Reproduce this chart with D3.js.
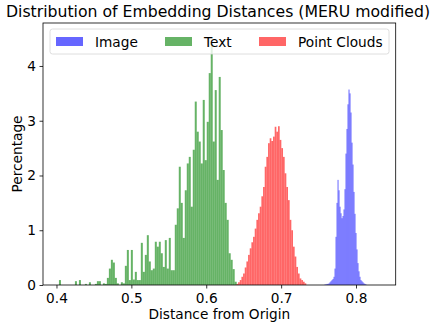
<!DOCTYPE html>
<html>
<head>
<meta charset="utf-8">
<script src="https://cdn.jsdelivr.net/npm/d3@7"></script>
<style>
    body { margin: 0; background: #fff; }
    svg { display: block; font-family: "DejaVu Sans", sans-serif; }
</style>
</head>
<body>
<svg id="chart"></svg>
<script>
// histogram heights (percentage per bin), each series has its own bins
const imageStart = 0.758, imageBinWidth = 0.001333;
const imageValues = [0.01, 0.01, 0.02, 0.02, 0.03, 0.05, 0.07, 0.09, 0.11, 0.15,
    0.3, 0.88, 1.5, 1.92, 1.73, 1.43, 1.31, 1.22, 1.26, 1.38,
    1.75, 2.4, 2.85, 3.3, 3.57, 3.5, 3.15, 2.6, 2.2, 1.7,
    1.3, 0.95, 0.65, 0.4, 0.25, 0.15, 0.09, 0.07, 0.05, 0.03,
    0.02, 0.01];

const textStart = 0.4033, textBinWidth = 0.002667;
const textValues = [0.09, 0, 0, 0, 0, 0, 0, 0, 0.07, 0,
    0.09, 0, 0, 0.02, 0, 0.05, 0, 0, 0.02, 0.07,
    0.07, 0, 0.03, 0.02, 0.13, 0.3, 0.46, 0.41, 0.13, 0.03,
    0, 0.05, 0.03, 0.35, 0.64, 0.09, 0.64, 0.1, 0.24, 0.09,
    0.09, 0.77, 0.24, 0.55, 0.91, 0.43, 0.27, 0.3, 0.79, 0.7,
    0.79, 0.58, 0.33, 0.82, 0.3, 0.86, 0.27, 0.27, 1.1, 1.4,
    2.16, 1.5, 0.86, 1.73, 2.22, 2.34, 1.43, 2.47, 3.35, 2.8,
    2.62, 2.22, 3.38, 2.28, 2.98, 3.87, 4.4, 2.62, 3.56, 1.92,
    3.8, 2.83, 2.1, 1.5, 1.19, 0.58, 0.46, 0.29, 0.06];

const cloudStart = 0.6403, cloudBinWidth = 0.002222;
const cloudValues = [0.02, 0.05, 0.09, 0.15, 0.21, 0.32, 0.43, 0.55, 0.67, 0.78,
    0.88, 1.03, 1.19, 1.31, 1.43, 1.62, 1.79, 2.16, 2.34, 2.59,
    2.68, 2.63, 2.71, 2.89, 2.8, 2.9, 2.65, 2.5, 2.34, 2.04,
    1.79, 1.55, 1.19, 1.0, 0.7, 0.52, 0.33, 0.21, 0.12, 0.09,
    0.06, 0.03];

const seriesNames = ["Image", "Text", "Point Clouds"];
const seriesColors = ["blue", "green", "red"];
const xTicks = [0.4, 0.5, 0.6, 0.7, 0.8];
const yTicks = [0, 1, 2, 3, 4];

let series = [
    {start: imageStart, w: imageBinWidth, values: imageValues},
    {start: textStart, w: textBinWidth, values: textValues},
    {start: cloudStart, w: cloudBinWidth, values: cloudValues}
];

let fontSize = 13.7;

let svg = d3.select("#chart").attr("width", 432).attr("height", 327);

let margin = {top: 23, right: 36.3, bottom: 42, left: 43},
    width = 432 - margin.left - margin.right,
    height = 327 - margin.top - margin.bottom,
    g = svg.append("g").attr("transform", "translate(" + margin.left + "," + margin.top + ")");

let x = d3.scaleLinear().domain([0.382, 0.853]).range([0, width]);
let y = d3.scaleLinear().domain([0, 4.785]).range([height, 0]);

series.forEach((s, k) => {
    g.append("g")
        .selectAll("rect")
        .data(s.values.map((v, i) => ({x0: s.start + i * s.w, x1: s.start + (i + 1) * s.w, v: v})))
        .enter()
        .append("rect")
            .attr("x", d => x(d.x0))
            .attr("width", d => x(d.x1) - x(d.x0))
            .attr("y", d => y(d.v))
            .attr("height", d => y(0) - y(d.v))
            .attr("fill", seriesColors[k])
            .attr("fill-opacity", 0.6);
});

// axes
let xAxis = g.append("g")
    .attr("transform", "translate(0," + height + ")")
    .call(d3.axisBottom(x).tickValues(xTicks).tickFormat(d3.format(".1f")).tickSize(3.5).tickPadding(4.5));
let yAxis = g.append("g")
    .call(d3.axisLeft(y).tickValues(yTicks).tickFormat(d3.format("d")).tickSize(3.5).tickPadding(3.5));

[xAxis, yAxis].forEach(a => {
    a.select(".domain").remove();
    a.selectAll("line").attr("stroke", "#000").attr("stroke-width", 0.8);
    a.selectAll("text").attr("font-size", fontSize).attr("fill", "#000").attr("font-family", "DejaVu Sans");
});

g.append("rect")
    .attr("width", width)
    .attr("height", height)
    .attr("fill", "none")
    .attr("stroke", "#000")
    .attr("stroke-width", 0.8);

// labels
svg.append("text")
    .attr("x", 218)
    .attr("y", 17)
    .attr("text-anchor", "middle")
    .attr("font-size", 15.7)
    .text("Distribution of Embedding Distances (MERU modified)");

svg.append("text")
    .attr("x", margin.left + width / 2)
    .attr("y", 319)
    .attr("text-anchor", "middle")
    .attr("font-size", fontSize)
    .text("Distance from Origin");

svg.append("text")
    .attr("transform", "translate(21.5," + (margin.top + height / 2) + ") rotate(-90)")
    .attr("text-anchor", "middle")
    .attr("font-size", fontSize)
    .text("Percentage");

// legend
let legend = svg.append("g").attr("transform", "translate(50,29)");
legend.append("rect")
    .attr("width", 339)
    .attr("height", 25)
    .attr("rx", 2.5)
    .attr("fill", "#fff")
    .attr("fill-opacity", 0.8)
    .attr("stroke", "#d6d6d6")
    .attr("stroke-width", 0.8);

let legendX = [6, 115, 209];
seriesNames.forEach((name, k) => {
    legend.append("rect")
        .attr("x", legendX[k])
        .attr("y", 8)
        .attr("width", 27)
        .attr("height", 9)
        .attr("fill", seriesColors[k])
        .attr("fill-opacity", 0.6);
    legend.append("text")
        .attr("x", legendX[k] + 39)
        .attr("y", 17.5)
        .attr("font-size", fontSize)
        .text(name);
});
</script>
</body>
</html>
